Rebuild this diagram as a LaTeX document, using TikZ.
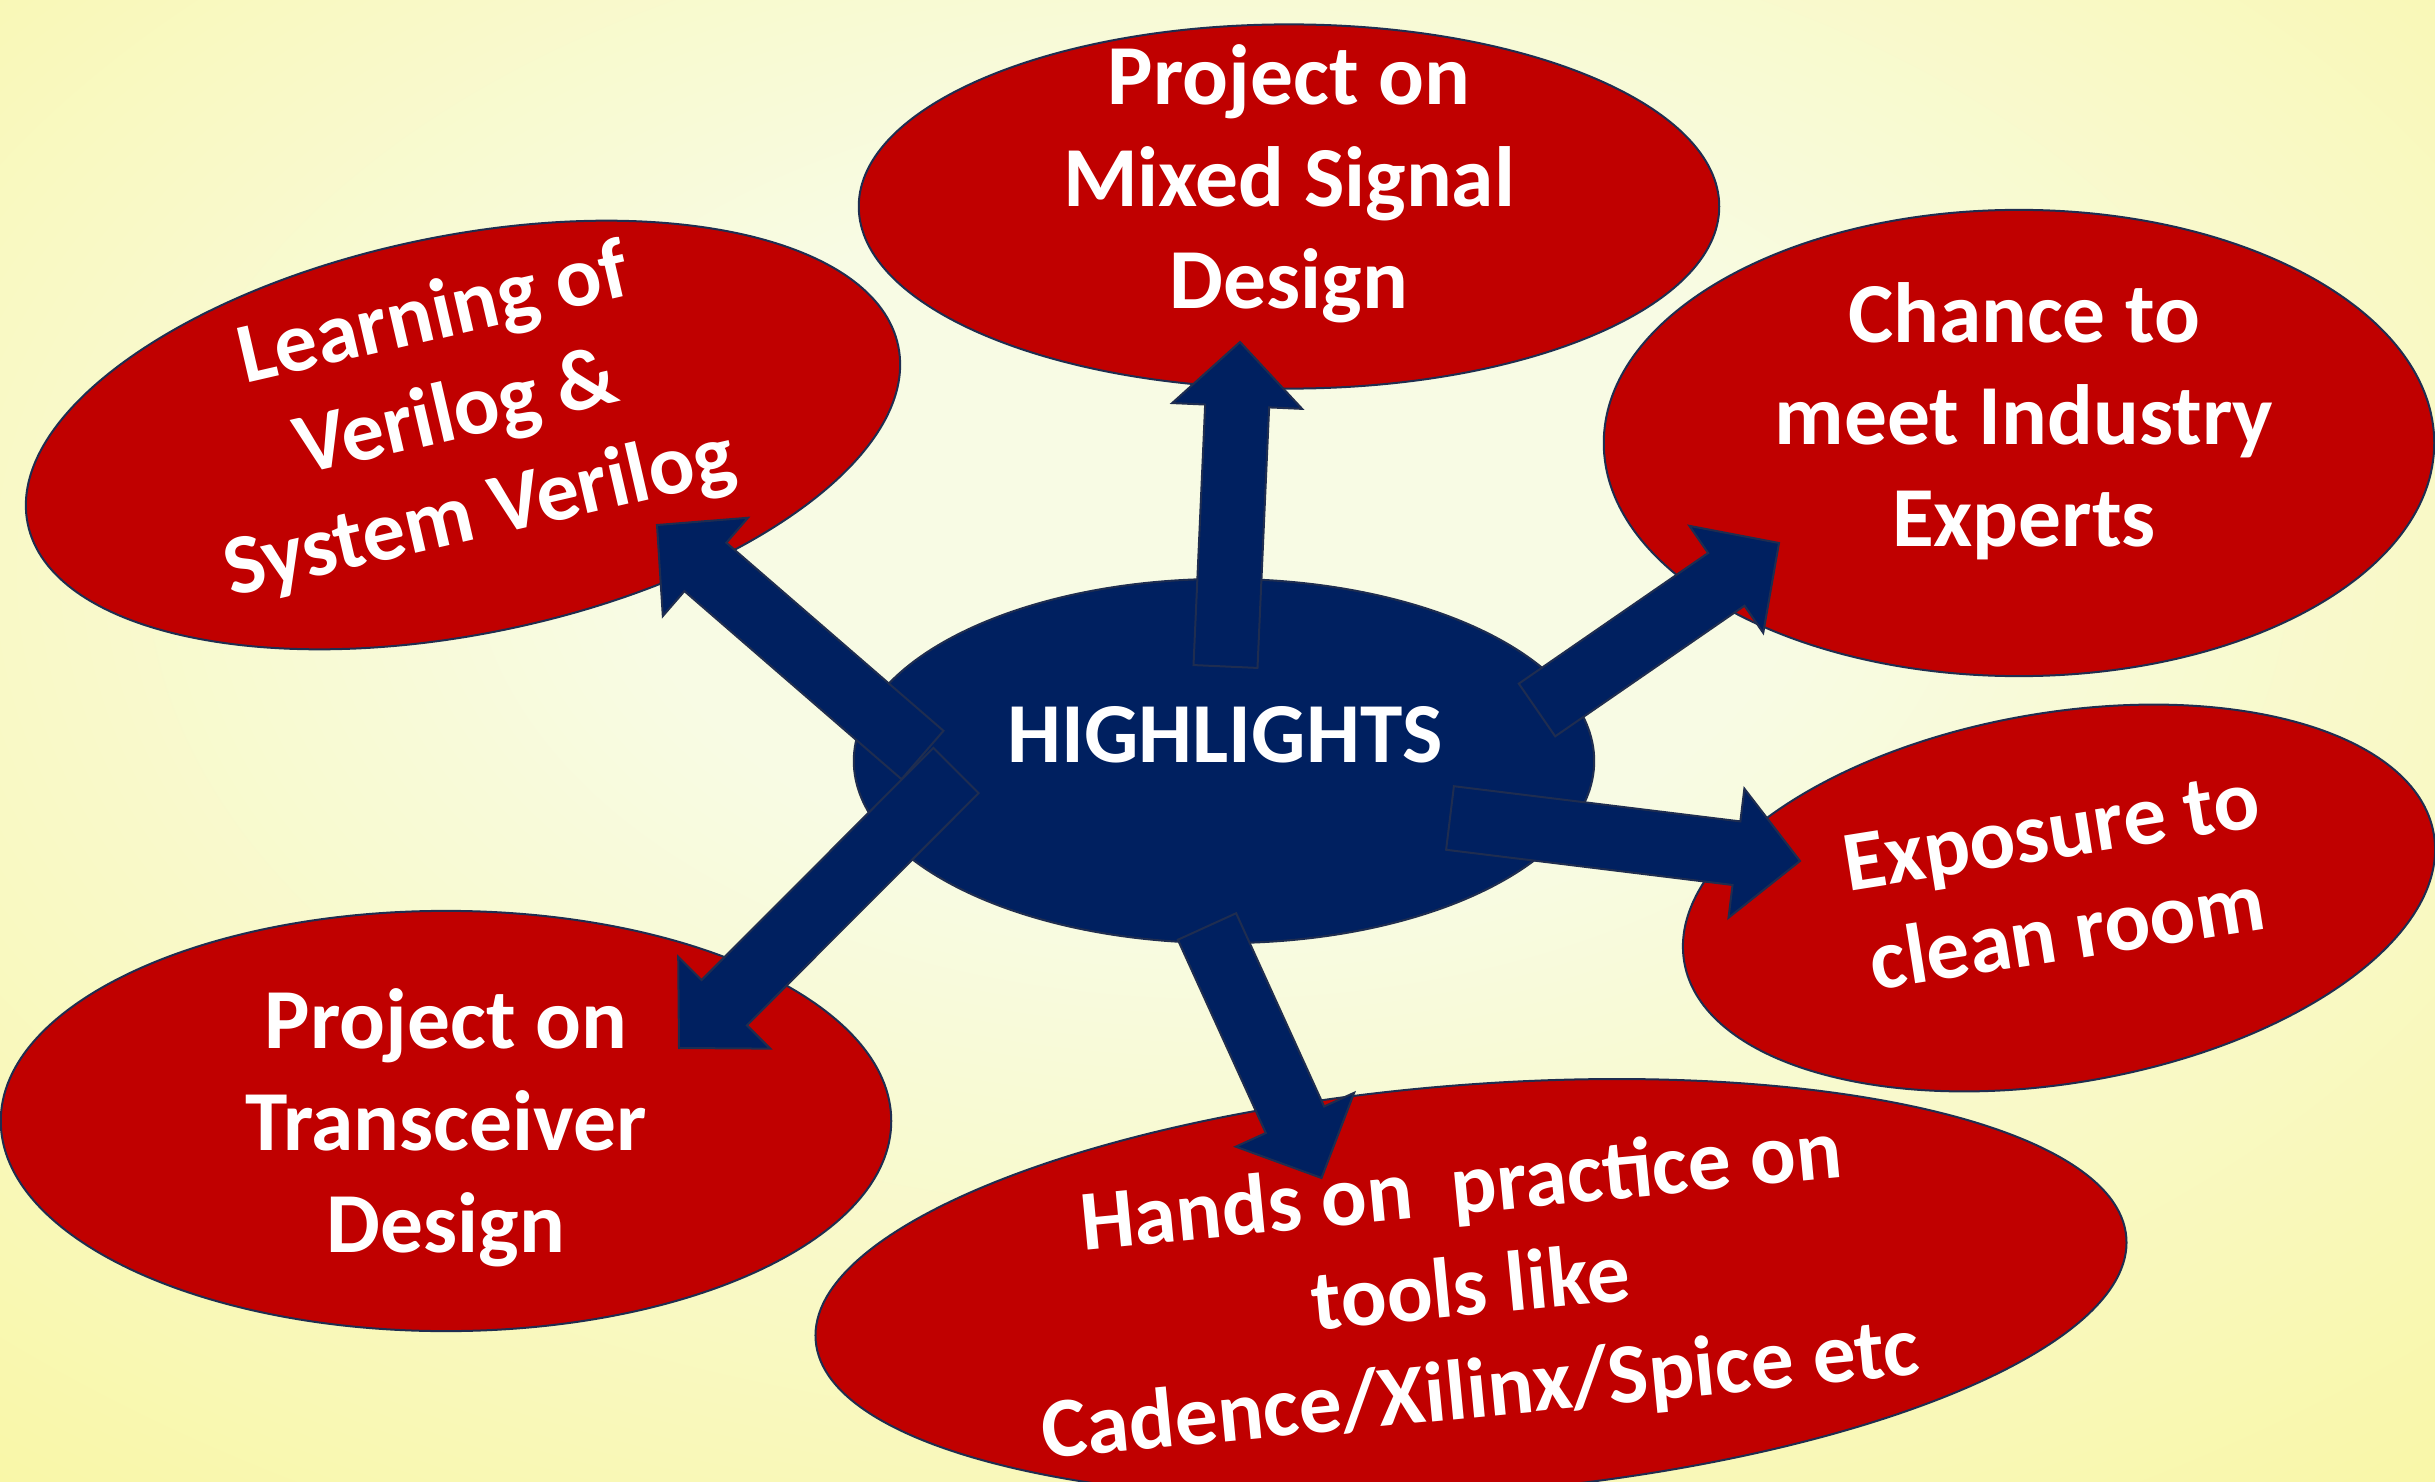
\documentclass[tikz,border=0pt]{standalone}
\usepackage{fontspec}
\setmainfont{Carlito}
\usetikzlibrary{calc,shapes.geometric}
\definecolor{bgin}{RGB}{248,251,228}
\definecolor{bgout}{RGB}{250,245,138}
\definecolor{redfill}{RGB}{192,0,0}
\definecolor{navy}{RGB}{0,32,96}
\definecolor{edgecol}{RGB}{31,45,80}
\pgfdeclareradialshading{bgshade}{\pgfpoint{0bp}{8bp}}{color(0bp)=(bgin); color(12bp)=(bgin); color(52bp)=(bgout); color(90bp)=(bgout)}
\newcommand{\blockarrow}[2]{%
  \coordinate (ba-base) at ($(#2)!0.64cm!(#1)$);
  \filldraw[blockarr] ($(#1)!0.32cm!90:(#2)$) -- ($(ba-base)!0.32cm!90:(#2)$) -- ($(ba-base)!0.65cm!90:(#2)$) -- (#2) -- ($(ba-base)!0.65cm!-90:(#2)$) -- ($(ba-base)!0.32cm!-90:(#2)$) -- ($(#1)!0.32cm!-90:(#2)$) -- cycle;}
\begin{document}
\begin{tikzpicture}[x=0.01cm,y=-0.01cm,
  bubble/.style={ellipse, draw=edgecol, line width=0.02cm, fill=redfill, inner sep=0pt, outer sep=0pt},
  hub/.style={ellipse, draw=edgecol, line width=0.02cm, fill=navy, inner sep=0pt, outer sep=0pt},
  blockarr/.style={fill=navy, draw=edgecol, line width=0.02cm, line join=miter},
  bubtext/.style={text=white, font=\fontsize{24.3}{29}\selectfont\bfseries, align=center, inner sep=0pt}]
\shade[shading=bgshade] (0,0) rectangle (2435,1482);
\useasboundingbox (0,0) rectangle (2435,1482);
% bubbles
\node[bubble, minimum width=8.6cm, minimum height=3.64cm] (mixed) at (1289,206.5) {};
\node[bubble, minimum width=8.88cm, minimum height=3.98cm, rotate=11.5] (verilog) at (463,435) {};
\node[bubble, minimum width=8.30cm, minimum height=4.66cm] (industry) at (2019,443) {};
\node[bubble, minimum width=7.60cm, minimum height=3.70cm, rotate=9.7] (clean) at (2059,898) {};
\node[bubble, minimum width=8.90cm, minimum height=4.20cm] (trans) at (446,1121) {};
\node[bubble, minimum width=13.14cm, minimum height=4.08cm, rotate=4.5] (tools) at (1471,1289) {};
% hub
\node[hub, minimum width=7.40cm, minimum height=3.64cm] (hub) at (1224,761) {};
% arrow ends
\coordinate (t-up) at (1225.5,666.5);   \coordinate (a-up) at (1240,342);
\coordinate (t-ul) at (922.5,755);      \coordinate (a-ul) at (657,525);
\coordinate (t-ru) at (1537,710);       \coordinate (a-ru) at (1779,543);
\coordinate (t-r) at (1450,818);        \coordinate (a-r) at (1800,861);
\coordinate (t-d) at (1207,926.5);      \coordinate (a-d) at (1321.5,1178);
\coordinate (t-dl) at (956,770.5);      \coordinate (a-dl) at (679,1048);
\blockarrow{t-up}{a-up}
\blockarrow{t-ul}{a-ul}
\blockarrow{t-ru}{a-ru}
\blockarrow{t-r}{a-r}
\blockarrow{t-d}{a-d}
\blockarrow{t-dl}{a-dl}
% texts
\node[bubtext] (t-mixed) at (1289,184) {Project on\\Mixed Signal\\Design};
\node[bubtext, rotate=13] (t-verilog) at (457,416) {Learning of\\Verilog \&\\System Verilog};
\node[bubtext] (t-industry) at (2024,421) {Chance to\\meet Industry\\Experts};
\node[bubtext, rotate=9] (t-clean) at (2059,882) {Exposure to\\clean room};
\node[bubtext] (t-trans) at (446,1128) {Project on\\Transceiver\\Design};
\node[bubtext, rotate=5.5] (t-tools) at (1471,1292) {Hands on\ \ practice on\\tools like\\Cadence/Xilinx/Spice etc};
\node[bubtext] (t-high) at (1225,735) {HIGHLIGHTS};
\end{tikzpicture}
\end{document}
